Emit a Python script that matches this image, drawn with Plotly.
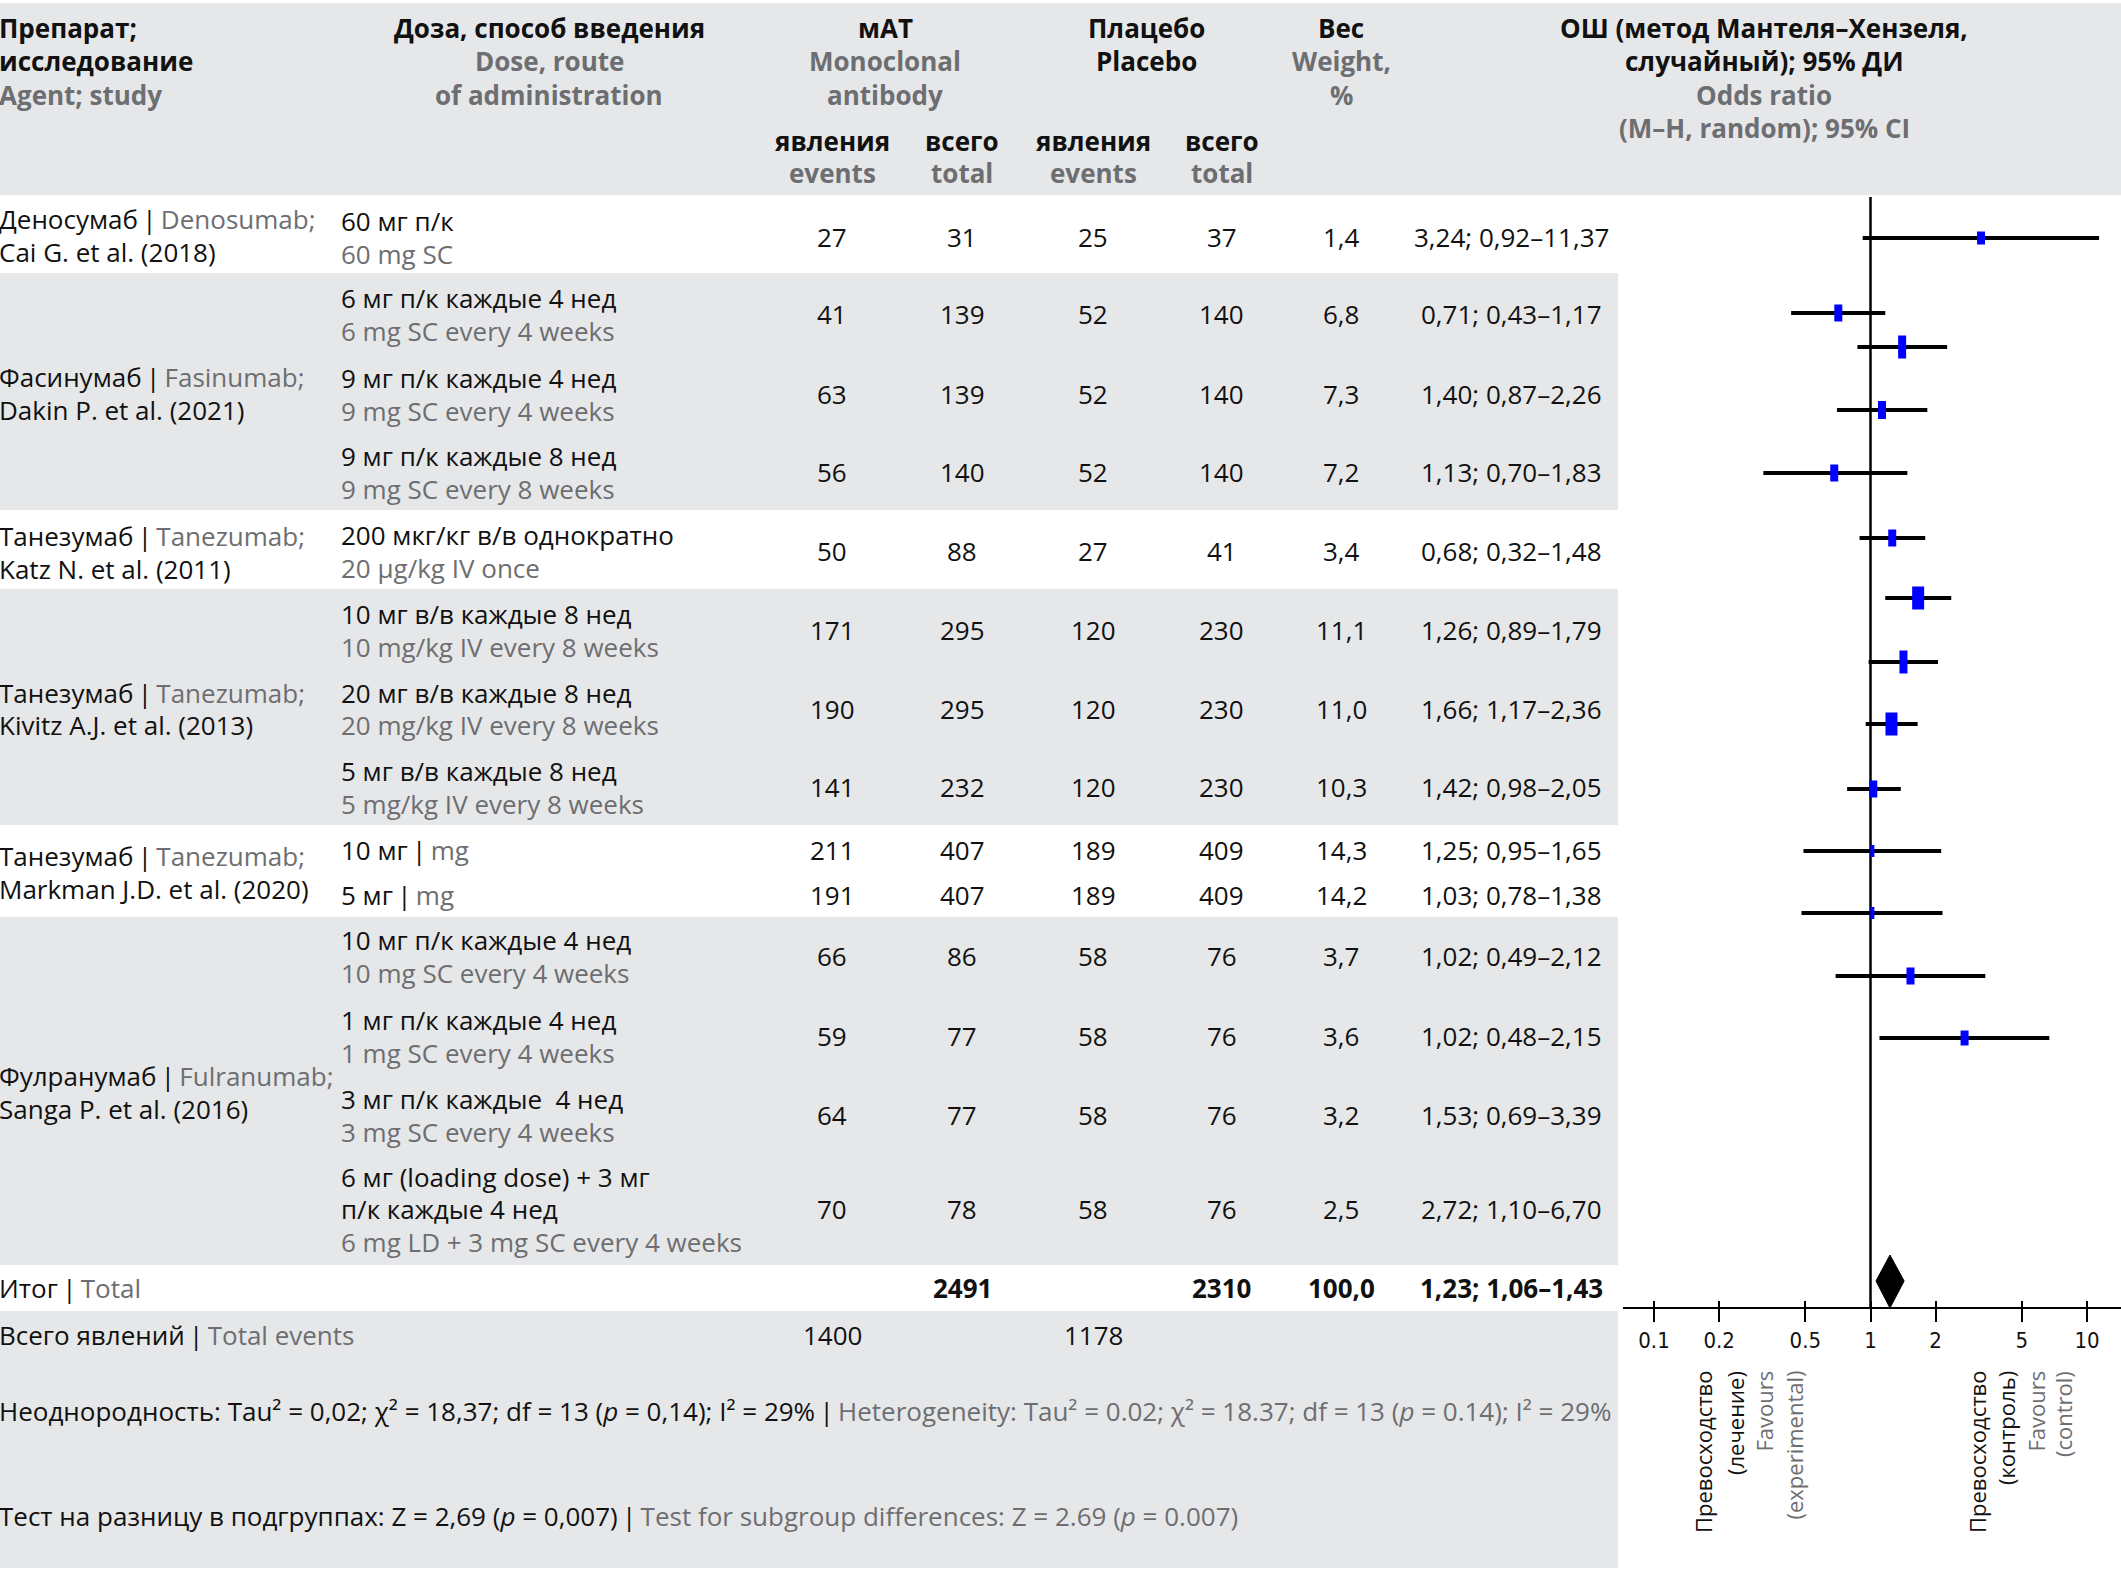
import math
import plotly.graph_objects as go

# ---------------- DATA ----------------
study_ru = ["Деносумаб", "Фасинумаб", "Танезумаб", "Танезумаб", "Танезумаб", "Фулранумаб"]
study_en = ["Denosumab;", "Fasinumab;", "Tanezumab;", "Tanezumab;", "Tanezumab;", "Fulranumab;"]
study_ref = ["Cai G. et al. (2018)", "Dakin P. et al. (2021)", "Katz N. et al. (2011)",
             "Kivitz A.J. et al. (2013)", "Markman J.D. et al. (2020)", "Sanga P. et al. (2016)"]

dose_ru = ["60 мг п/к", "6 мг п/к каждые 4 нед", "9 мг п/к каждые 4 нед", "9 мг п/к каждые 8 нед",
           "200 мкг/кг в/в однократно", "10 мг в/в каждые 8 нед", "20 мг в/в каждые 8 нед",
           "5 мг в/в каждые 8 нед", "10 мг", "5 мг", "10 мг п/к каждые 4 нед",
           "1 мг п/к каждые 4 нед", "3 мг п/к каждые  4 нед",
           "6 мг (loading dose) + 3 мг|п/к каждые 4 нед"]
dose_en = ["60 mg SC", "6 mg SC every 4 weeks", "9 mg SC every 4 weeks", "9 mg SC every 8 weeks",
           "20 µg/kg IV once", "10 mg/kg IV every 8 weeks", "20 mg/kg IV every 8 weeks",
           "5 mg/kg IV every 8 weeks", "mg", "mg", "10 mg SC every 4 weeks",
           "1 mg SC every 4 weeks", "3 mg SC every 4 weeks", "6 mg LD + 3 mg SC every 4 weeks"]

events_mab = [27, 41, 63, 56, 50, 171, 190, 141, 211, 191, 66, 59, 64, 70]
total_mab = [31, 139, 139, 140, 88, 295, 295, 232, 407, 407, 86, 77, 77, 78]
events_pl = [25, 52, 52, 52, 27, 120, 120, 120, 189, 189, 58, 58, 58, 58]
total_pl = [37, 140, 140, 140, 41, 230, 230, 230, 409, 409, 76, 76, 76, 76]
weight = [1.4, 6.8, 7.3, 7.2, 3.4, 11.1, 11.0, 10.3, 14.3, 14.2, 3.7, 3.6, 3.2, 2.5]
odds = [3.24, 0.71, 1.40, 1.13, 0.68, 1.26, 1.66, 1.42, 1.25, 1.03, 1.02, 1.02, 1.53, 2.72]
ci_lo = [0.92, 0.43, 0.87, 0.70, 0.32, 0.89, 1.17, 0.98, 0.95, 0.78, 0.49, 0.48, 0.69, 1.10]
ci_hi = [11.37, 1.17, 2.26, 1.83, 1.48, 1.79, 2.36, 2.05, 1.65, 1.38, 2.12, 2.15, 3.39, 6.70]

total_n_mab, total_n_pl, total_weight = 2491, 2310, 100.0
total_or, total_lo, total_hi = 1.23, 1.06, 1.43
total_ev_mab, total_ev_pl = 1400, 1178

x_ticks = [0.1, 0.2, 0.5, 1, 2, 5, 10]
x_tick_labels = ["0.1", "0.2", "0.5", "1", "2", "5", "10"]

# ---------------- LAYOUT / STYLE ----------------
W, H = 2121, 1590
BLACK = "#111111"
GREY = "#6d6e71"
BAND = "#e6e7e8"
BLUE = "#0000ff"
FONT = "'Open Sans', Roboto, sans-serif"
NARROW = "'Liberation Sans Narrow', 'DejaVu Sans Condensed', Roboto, sans-serif"
BODY = 26
HEAD = 26
SEP = "\u2009|\u2009"

row_px = [237, 314, 394, 472, 551, 630, 709, 787, 850, 895, 956, 1036, 1115, 1209]
study_label_px = [235.5, 393.5, 552, 709, 872.5, 1092]
forest_row_px = [238, 313, 347, 410, 473, 538, 598, 662, 724, 789, 851, 913, 976, 1038]
square_h = [13, 17, 23, 18, 17, 17, 23, 23, 23, 17, 12, 12, 17, 15]
square_w = [8, 8, 8, 8, 8, 8, 12, 8, 12, 8, 4, 4, 8, 8]
diamond_px = (1255, 1281, 1308)   # top, centre, bottom
ref_line_px = (197, 1308)
axis_px = 1308
bands = [(3, 195, 0, W), (273, 510, 0, 1618), (589, 825, 0, 1618), (917, 1265, 0, 1618),
         (1311, 1568, 0, 1618)]

col_ev_mab, col_tot_mab, col_ev_pl, col_tot_pl, col_w, col_or = 832, 962, 1093, 1222, 1341, 1511
X_STUDY, X_DOSE = -2, 340


def pxx(x):
    return x / W


def pxy(y):
    return 1 - y / H


fig = go.Figure()
ann = []


def txt(x, y, s, size=BODY, color=BLACK, anchor="left", family=FONT, angle=0, yanchor="middle"):
    ann.append(dict(xref="paper", yref="paper", x=pxx(x), y=pxy(y), text=s, showarrow=False,
                    xanchor=anchor, yanchor=yanchor, textangle=angle, borderpad=0,
                    font=dict(family=family, size=size, color=color)))


def g(s):
    return f"<span style='color:{GREY}'>{s}</span>"


def fmt(v, d):
    return f"{v:.{d}f}".replace(".", ",")


# bands
shapes = []
for y0, y1, x0, x1 in bands:
    shapes.append(dict(type="rect", xref="paper", yref="paper", x0=pxx(x0), x1=pxx(x1),
                       y0=pxy(y1), y1=pxy(y0), fillcolor=BAND, line=dict(width=0), layer="below"))

# header
hy = [28, 61, 95, 128]
txt(X_STUDY, hy[0], "<b>Препарат;</b>", HEAD)
txt(X_STUDY, hy[1], "<b>исследование</b>", HEAD)
txt(X_STUDY, hy[2], "<b>Agent; study</b>", HEAD, GREY)
txt(549, hy[0], "<b>Доза, способ введения</b>", HEAD, anchor="center")
txt(549, hy[1], "<b>Dose, route</b>", HEAD, GREY, anchor="center")
txt(549, hy[2], "<b>of administration</b>", HEAD, GREY, anchor="center")
txt(885, hy[0], "<b>мАТ</b>", HEAD, anchor="center")
txt(885, hy[1], "<b>Monoclonal</b>", HEAD, GREY, anchor="center")
txt(885, hy[2], "<b>antibody</b>", HEAD, GREY, anchor="center")
txt(1146, hy[0], "<b>Плацебо</b>", HEAD, anchor="center")
txt(1146, hy[1], "<b>Placebo</b>", HEAD, anchor="center")
txt(1341, hy[0], "<b>Вес</b>", HEAD, anchor="center")
txt(1341, hy[1], "<b>Weight,</b>", HEAD, GREY, anchor="center")
txt(1341, hy[2], "<b>%</b>", HEAD, GREY, anchor="center")
txt(1764, hy[0], "<b>ОШ (метод Мантеля–Хензеля,</b>", HEAD, anchor="center")
txt(1764, hy[1], "<b>случайный); 95% ДИ</b>", HEAD, anchor="center")
txt(1764, hy[2], "<b>Odds ratio</b>", HEAD, GREY, anchor="center")
txt(1764, hy[3], "<b>(M–H, random); 95% CI</b>", HEAD, GREY, anchor="center")
for cx in (col_ev_mab, col_ev_pl):
    txt(cx, 141, "<b>явления</b>", HEAD, anchor="center")
    txt(cx, 173, "<b>events</b>", HEAD, GREY, anchor="center")
for cx in (col_tot_mab, col_tot_pl):
    txt(cx, 141, "<b>всего</b>", HEAD, anchor="center")
    txt(cx, 173, "<b>total</b>", HEAD, GREY, anchor="center")

# study labels
for i in range(len(study_ru)):
    yc = study_label_px[i]
    txt(X_STUDY, yc - 16.5, study_ru[i] + SEP + g(study_en[i]))
    txt(X_STUDY, yc + 16.5, study_ref[i])

# rows
for i in range(len(odds)):
    y = row_px[i]
    if i in (8, 9):
        txt(X_DOSE, y, dose_ru[i] + SEP + g(dose_en[i]))
    elif "|" in dose_ru[i]:
        l1, l2 = dose_ru[i].split("|")
        txt(X_DOSE, y - 32, l1)
        txt(X_DOSE, y, l2)
        txt(X_DOSE, y + 33, g(dose_en[i]))
    else:
        txt(X_DOSE, y - 16.5, dose_ru[i])
        txt(X_DOSE, y + 16.5, g(dose_en[i]))
    txt(col_ev_mab, y, str(events_mab[i]), anchor="center")
    txt(col_tot_mab, y, str(total_mab[i]), anchor="center")
    txt(col_ev_pl, y, str(events_pl[i]), anchor="center")
    txt(col_tot_pl, y, str(total_pl[i]), anchor="center")
    txt(col_w, y, fmt(weight[i], 1), anchor="center")
    txt(col_or, y, f"{fmt(odds[i], 2)}; {fmt(ci_lo[i], 2)}–{fmt(ci_hi[i], 2)}", anchor="center")

# totals
txt(X_STUDY, 1288, "Итог" + SEP + g("Total"))
txt(col_tot_mab, 1288, f"<b>{total_n_mab}</b>", anchor="center")
txt(col_tot_pl, 1288, f"<b>{total_n_pl}</b>", anchor="center")
txt(col_w, 1288, f"<b>{fmt(total_weight, 1)}</b>", anchor="center")
txt(col_or, 1288, f"<b>{fmt(total_or, 2)}; {fmt(total_lo, 2)}–{fmt(total_hi, 2)}</b>", anchor="center")
txt(X_STUDY, 1335, "Всего явлений" + SEP + g("Total events"))
txt(col_ev_mab, 1335, str(total_ev_mab), anchor="center")
txt(col_ev_pl, 1335, str(total_ev_pl), anchor="center")
txt(X_STUDY, 1411, "Неоднородность: Tau² = 0,02; χ² = 18,37; df = 13 (<i>p</i> = 0,14); I² = 29%" + SEP
    + g("Heterogeneity: Tau² = 0.02; χ² = 18.37; df = 13 (<i>p</i> = 0.14); I² = 29%"), 26)
txt(X_STUDY, 1516, "Тест на разницу в подгруппах: Z = 2,69 (<i>p</i> = 0,007)" + SEP
    + g("Test for subgroup differences: Z = 2.69 (<i>p</i> = 0.007)"), 26)

# favours labels (rotated)
fav = [(1703, "Превосходство", BLACK), (1735, "(лечение)", BLACK), (1763, "Favours", GREY),
       (1793, "(experimental)", GREY), (1977, "Превосходство", BLACK), (2006, "(контроль)", BLACK),
       (2035, "Favours", GREY), (2063, "(control)", GREY)]
for x, s, c in fav:
    txt(x, 1370, s, 22, c, anchor="center", angle=-90, yanchor="top")

# ---------------- FOREST ----------------
ci_x, ci_y = [], []
for i in range(len(odds)):
    ci_x += [ci_lo[i], ci_hi[i], None]
    ci_y += [forest_row_px[i], forest_row_px[i], None]
fig.add_trace(go.Scatter(x=[1, 1], y=list(ref_line_px), mode="lines",
                         line=dict(color="black", width=2.5), hoverinfo="skip", showlegend=False))
fig.add_trace(go.Scatter(x=ci_x, y=ci_y, mode="lines", line=dict(color="black", width=4),
                         hoverinfo="skip", showlegend=False))
for i in range(len(odds)):
    yc = forest_row_px[i]
    fig.add_trace(go.Scatter(x=[odds[i], odds[i]], y=[yc - square_h[i] / 2, yc + square_h[i] / 2],
                             mode="lines", line=dict(color=BLUE, width=square_w[i]),
                             hoverinfo="skip", showlegend=False))
t, c, b = diamond_px
fig.add_trace(go.Scatter(x=[total_lo, total_or, total_hi, total_or, total_lo], y=[c, t, c, b, c],
                         mode="lines", fill="toself", fillcolor="black", line=dict(color="black", width=1),
                         hoverinfo="skip", showlegend=False))
# helper trace for the inside-tick axis
fig.add_trace(go.Scatter(x=[1], y=[-100], xaxis="x2", mode="markers", marker=dict(opacity=0),
                         hoverinfo="skip", showlegend=False))

x_left_px, dec_px, one_px = 1623, 216.5, 1870.5
r0 = (x_left_px - one_px) / dec_px
r1 = (W - one_px) / dec_px
axis_pos = (H - axis_px) / H

common_x = dict(type="log", range=[r0, r1], domain=[x_left_px / W, 1], anchor="free", position=axis_pos,
                tickvals=x_ticks, ticktext=x_tick_labels, showgrid=False, zeroline=False, fixedrange=True)
fig.update_layout(
    width=W, height=H, margin=dict(l=0, r=0, t=0, b=0),
    paper_bgcolor="white", plot_bgcolor="rgba(0,0,0,0)",
    xaxis=dict(**common_x, showline=True, linecolor="black", linewidth=2, ticks="outside", ticklen=13,
               tickwidth=2, tickcolor="black", tickfont=dict(family=NARROW, size=22, color=BLACK)),
    xaxis2=dict(**common_x, overlaying="x", showline=False, ticks="inside", ticklen=7, tickwidth=2,
                tickcolor="black", showticklabels=False),
    yaxis=dict(range=[H, 0], domain=[0, 1], visible=False, fixedrange=True),
    shapes=shapes, annotations=ann,
)
fig.write_html("out.html", config={"displayModeBar": False},
               post_script="document.body.style.margin='0';document.body.style.overflow='hidden';")
